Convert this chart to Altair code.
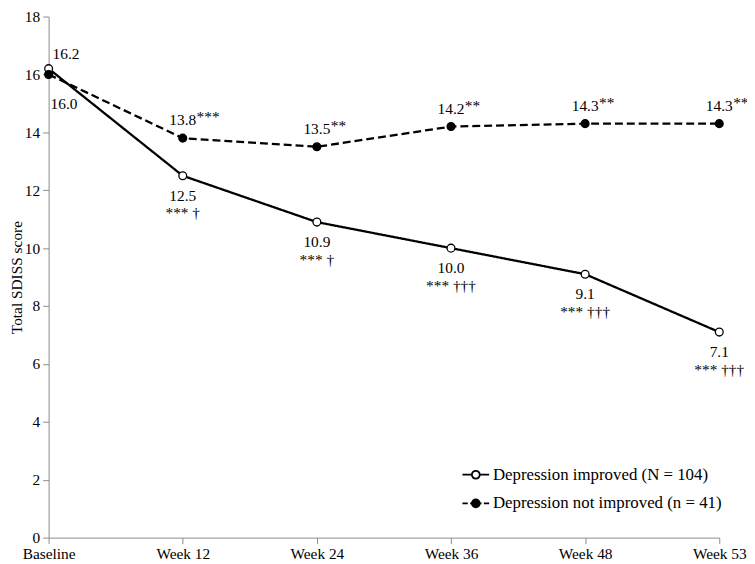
import altair as alt
import pandas as pd

weeks = ["Baseline", "Week 12", "Week 24", "Week 36", "Week 48", "Week 53"]
improved = [16.2, 12.5, 10.9, 10.0, 9.1, 7.1]
not_improved = [16.0, 13.8, 13.5, 14.2, 14.3, 14.3]
improved_sig = ["", "*** \u2020", "*** \u2020", "*** \u2020\u2020\u2020", "*** \u2020\u2020\u2020", "*** \u2020\u2020\u2020"]
not_improved_sig = ["", "***", "**", "**", "**", "**"]
groups = ["Depression improved (N = 104)", "Depression not improved (n = 41)"]
y_ticks = [0, 2, 4, 6, 8, 10, 12, 14, 16, 18]
y_title = "Total SDISS score"

rows = []
for i, w in enumerate(weeks):
    rows.append(dict(week=w, group=groups[0], lg=groups[0], value=improved[i], sig=improved_sig[i],
                     label=f"{improved[i]:.1f}"))
    rows.append(dict(week=w, group=groups[1], lg=groups[1], value=not_improved[i], sig=not_improved_sig[i],
                     label=f"{not_improved[i]:.1f}"))
df = pd.DataFrame(rows)

FONT = "Liberation Serif"
FS = 15.5
LFS = 17

x = alt.X("week:O", sort=weeks, scale=alt.Scale(type="point", padding=0),
          axis=alt.Axis(title=None, labelAngle=0))
y = alt.Y("value:Q", scale=alt.Scale(domain=[0, 18], nice=False),
          axis=alt.Axis(values=y_ticks, title=y_title))

base = alt.Chart(df)

lines = base.mark_line(color="black", strokeWidth=2.3).encode(
    x=x, y=y, detail="group:N",
    strokeDash=alt.StrokeDash("group:N", scale=alt.Scale(domain=groups, range=[[1, 0], [8, 4]]),
                              legend=None),
)

points = base.mark_point(shape="circle", size=62, stroke="black", strokeWidth=1.3,
                         opacity=1, fillOpacity=1).encode(
    x=x, y=y,
    fill=alt.Fill("group:N", scale=alt.Scale(domain=groups, range=["white", "black"]), legend=None),
)

# legend symbols (unit box: x from -2 to 2)
def circ(r):
    return f"M{r},0A{r},{r},0,1,1,{-r},0A{r},{r},0,1,1,{r},0Z"

path_open = "M-2,0H-0.59M0.59,0H2" + circ(0.59)
path_dash = ("M-2,0H-1.2M-0.85,0H0.85M1.2,0H2"
             + circ(0.59) + circ(0.43) + circ(0.27) + circ(0.11))

SYM = 182

legend_layer = base.transform_filter("false").mark_point(
    size=SYM, stroke="black", strokeWidth=1.8, opacity=1, filled=False).encode(
    x=x, y=y,
    shape=alt.Shape("lg:N", scale=alt.Scale(domain=groups, range=[path_open, path_dash]),
                    legend=alt.Legend(title=None, orient="none", legendX=422.75, legendY=454,
                                      padding=0, symbolSize=SYM, symbolStrokeWidth=1.8,
                                      symbolStrokeColor="black", symbolFillColor="white",
                                      labelFont=FONT, labelFontSize=LFS, labelColor="black",
                                      labelOffset=8.75, labelLimit=0, rowPadding=11)),
)

not_base = alt.datum.week != "Baseline"
is_base = alt.datum.week == "Baseline"
g_imp = alt.datum.group == groups[0]
g_not = alt.datum.group == groups[1]

txt = dict(font=FONT, fontSize=FS, color="black", baseline="alphabetic")

imp_val = base.transform_filter(not_base & g_imp).mark_text(align="center", dy=25, **txt).encode(
    x=x, y=y, text="label:N")
imp_sig = base.transform_filter(not_base & g_imp).mark_text(align="center", dy=43, **txt).encode(
    x=x, y=y, text="sig:N")
not_val = base.transform_filter(not_base & g_not).mark_text(align="center", dy=-13, **txt).encode(
    x=x, y=y, text="label:N")
not_sig = base.transform_filter(not_base & g_not).mark_text(align="left", dx=14, dy=-16, **txt).encode(
    x=x, y=y, text="sig:N")
base_imp = base.transform_filter(is_base & g_imp).mark_text(align="left", dx=4, dy=-10, **txt).encode(
    x=x, y=y, text="label:N")
base_not = base.transform_filter(is_base & g_not).mark_text(align="left", dx=2, dy=35, **txt).encode(
    x=x, y=y, text="label:N")

chart = alt.layer(
    lines, points, legend_layer, imp_val, imp_sig, not_val, not_sig, base_imp, base_not
).resolve_scale(fill="independent", shape="independent").properties(
    width=677, height=526,
    autosize=alt.AutoSizeParams(type="none"),
    padding={"left": 41, "top": 6, "right": 28, "bottom": 24},
).configure_view(stroke=None).configure_axis(
    grid=False, domainColor="#8c8c8c", tickColor="#8c8c8c", domainWidth=1, tickWidth=1,
    tickSize=6, labelFont=FONT, labelFontSize=FS, labelColor="black", labelPadding=3,
    titleFont=FONT, titleFontSize=FS, titleFontWeight="normal", titleColor="black",
    titlePadding=0,
)

chart.save("out.html", embed_options={"renderer": "svg", "actions": False})
